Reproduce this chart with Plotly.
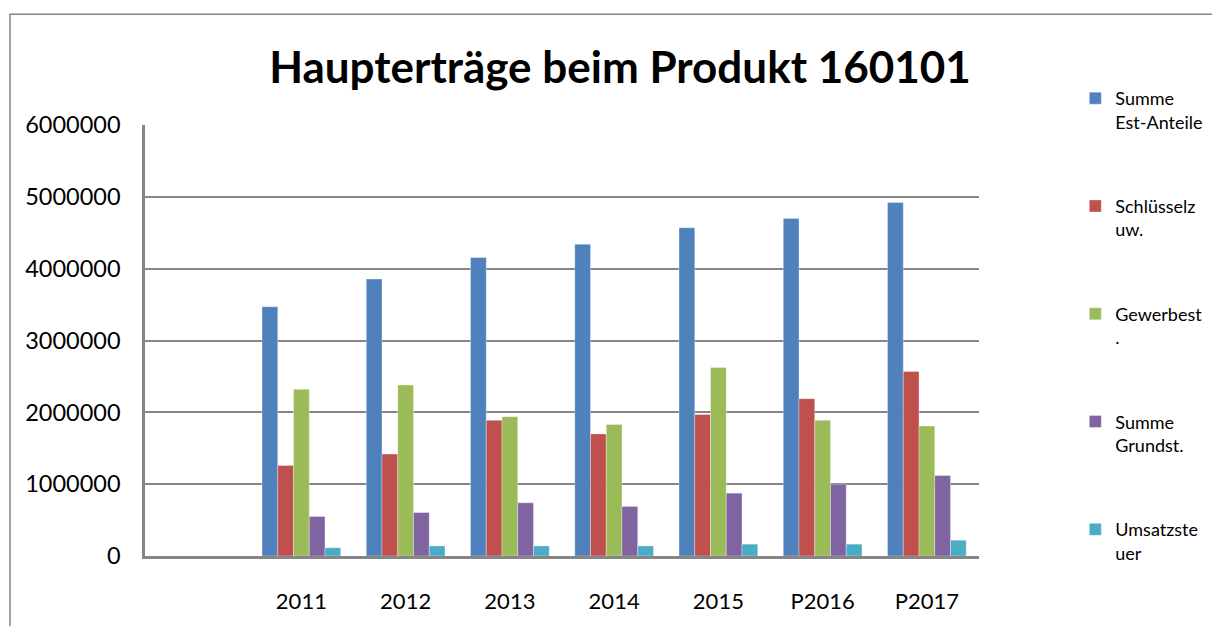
import plotly.graph_objects as go

categories = [" ", "2011", "2012", "2013", "2014", "2015", "P2016", "P2017"]
series_names = ["Summe<br>Est-Anteile", "Schlüsselz<br>uw.", "Gewerbest<br>.", "Summe<br>Grundst.", "Umsatzste<br>uer"]
est_anteile = [None, 3470000, 3855000, 4155000, 4340000, 4570000, 4700000, 4920000]
schluesselzuw = [None, 1260000, 1420000, 1890000, 1700000, 1970000, 2190000, 2570000]
gewerbest = [None, 2320000, 2380000, 1940000, 1830000, 2625000, 1890000, 1810000]
grundst = [None, 550000, 605000, 740000, 690000, 875000, 1000000, 1120000]
umsatzsteuer = [None, 115000, 140000, 140000, 140000, 165000, 165000, 220000]
colors = ["#4F81BD", "#C0504D", "#9BBB59", "#8064A2", "#4BACC6"]
y_ticks = [0, 1000000, 2000000, 3000000, 4000000, 5000000, 6000000]

all_series = [est_anteile, schluesselzuw, gewerbest, grundst, umsatzsteuer]

fig = go.Figure()
for i, (name, vals, col) in enumerate(zip(series_names, all_series, colors)):
    fig.add_trace(go.Bar(
        x=categories, y=vals, name=name, legendgroup=str(i),
        marker=dict(color=col, line=dict(width=0.6, color="rgba(255,255,255,0.55)")),
    ))

OFF = 8  # page body margin
W, H = 1220 - OFF, 626 - OFF
L, R, T, B = 145 - OFF, 985 - OFF, 125 - OFF, 565 - OFF
pw, ph = R - L, B - T

def px_x(x):
    return (x - OFF - L) / pw

def px_y(y):
    return (B - (y - OFF)) / ph

fig.update_layout(
    width=W, height=H,
    margin=dict(l=L, r=W - R, t=T, b=H - B, pad=0),
    paper_bgcolor="white", plot_bgcolor="white",
    font=dict(family="Lato, 'Open Sans', sans-serif", color="black"),
    barmode="group", bargap=0.245, bargroupgap=0,
    title=dict(text="<b>Haupterträge beim Produkt 160101</b>", x=(620 - OFF) / W, xanchor="center",
               y=1 - (68 - OFF) / H, yanchor="middle", yref="container",
               font=dict(size=44, color="black", family="Lato, sans-serif")),
    xaxis=dict(type="category", categoryorder="array", categoryarray=categories,
               range=[-0.5, len(categories) - 0.5],
               showline=True, linecolor="#868686", linewidth=2.5,
               showgrid=False, ticks="outside", ticklen=24, tickcolor="rgba(0,0,0,0)",
               tickfont=dict(size=22), zeroline=False),
    yaxis=dict(range=[0, 6000000], tickvals=y_ticks, ticktext=[str(v) for v in y_ticks],
               showline=True, linecolor="#868686", linewidth=2.5,
               showgrid=True, gridcolor="#868686", gridwidth=1.5,
               ticks="outside", ticklen=17, tickcolor="rgba(0,0,0,0)",
               tickfont=dict(size=23.5), zeroline=False),
    legend=dict(x=px_x(1082), xanchor="left", y=px_y(79), yanchor="top",
                font=dict(size=18), valign="top", tracegroupgap=58,
                traceorder="grouped", bgcolor="rgba(0,0,0,0)", itemclick=False,
                maxheight=1.0),
    showlegend=True,
    shapes=[dict(type="rect", xref="paper", yref="paper",
                 x0=px_x(9), x1=px_x(1235), y0=px_y(640), y1=px_y(12),
                 line=dict(color="#868686", width=1.5), fillcolor="rgba(0,0,0,0)", layer="below")],
)

fig.write_html("out.html")
